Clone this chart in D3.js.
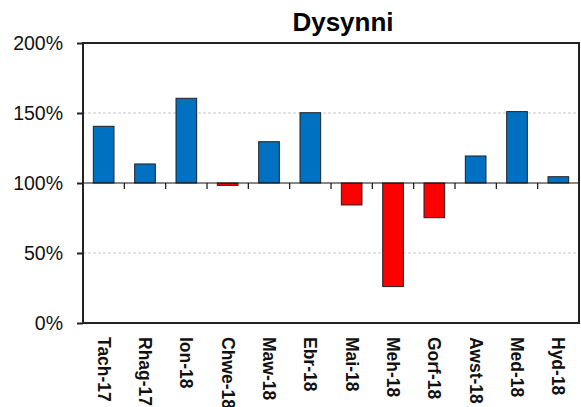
<!DOCTYPE html>
<html>
<head>
<meta charset="utf-8">
<script src="https://cdn.jsdelivr.net/npm/d3@7"></script>
<style>
  html, body { margin: 0; padding: 0; background: #fff; }
  svg { display: block; }
</style>
</head>
<body>
<script>
const title = "Dysynni";
const categories = ["Tach-17","Rhag-17","Ion-18","Chwe-18","Maw-18","Ebr-18","Mai-18","Meh-18","Gorf-18","Awst-18","Med-18","Hyd-18"];
const values = [140.5, 113.6, 160.5, 98.3, 129.5, 150.2, 84.3, 26, 75.2, 119.3, 151, 104.5];
const yTicks = [0, 50, 100, 150, 200];
const baseline = 100;

const W = 581, H = 407;
const m = {left: 83, right: 2, top: 43, bottom: 84};

const svg = d3.select("body").append("svg").attr("width", W).attr("height", H);

const x = d3.scaleBand().domain(categories).range([m.left, W - m.right]).paddingInner(0.5).paddingOuter(0.25);
const y = d3.scaleLinear().domain([0, 200]).range([H - m.bottom, m.top]);

// gridlines
svg.append("g").selectAll("line").data([50, 150]).join("line")
  .attr("x1", m.left).attr("x2", W - m.right)
  .attr("y1", d => y(d)).attr("y2", d => y(d))
  .attr("stroke", "#c8c8c8").attr("stroke-width", 1).attr("stroke-dasharray", "3,2");

// bars
svg.append("g").selectAll("rect").data(categories).join("rect")
  .attr("x", (d) => x(d))
  .attr("width", x.bandwidth())
  .attr("y", (d, i) => y(Math.max(values[i], baseline)))
  .attr("height", (d, i) => Math.abs(y(values[i]) - y(baseline)))
  .attr("fill", (d, i) => values[i] >= baseline ? "#0070c0" : "#ff0000")
  .attr("stroke", "#222").attr("stroke-width", 1);

// baseline axis at 100%
const step = x.step();
const xAxis = d3.axisBottom(x).tickSize(5).tickFormat("");
const gx = svg.append("g").attr("transform", `translate(0,${y(baseline)})`).call(xAxis);
gx.select(".domain").remove();
gx.selectAll(".tick").remove();
svg.append("line").attr("x1", m.left).attr("x2", W - m.right)
  .attr("y1", y(baseline)).attr("y2", y(baseline))
  .attr("stroke", "#111").attr("stroke-width", 1.2);
// tick marks between categories
svg.append("g").selectAll("line").data(categories.slice(1)).join("line")
  .attr("x1", d => x(d) - step * 0.25).attr("x2", d => x(d) - step * 0.25)
  .attr("y1", y(baseline)).attr("y2", y(baseline) + 6)
  .attr("stroke", "#111").attr("stroke-width", 1.2);

// frame
svg.append("rect").attr("x", m.left).attr("y", m.top)
  .attr("width", W - m.right - m.left).attr("height", y(0) - m.top)
  .attr("fill", "none").attr("stroke", "#222").attr("stroke-width", 2);

// y axis
const yAxis = d3.axisLeft(y).tickValues(yTicks).tickSize(6).tickPadding(14).tickFormat(d => d + "%");
const gy = svg.append("g").attr("transform", `translate(${m.left},0)`).call(yAxis);
gy.select(".domain").remove();
gy.selectAll(".tick line").attr("stroke", "#222").attr("stroke-width", 2);
gy.selectAll(".tick text").attr("font-family", "Liberation Sans, Arial, sans-serif")
  .attr("font-size", 19.5).attr("fill", "#111");

// x labels
svg.append("g").selectAll("text").data(categories).join("text")
  .attr("transform", d => `translate(${x(d) + x.bandwidth() / 2},337) rotate(90)`)
  .attr("text-anchor", "start").attr("dominant-baseline", "central")
  .attr("font-family", "Liberation Sans, Arial, sans-serif")
  .attr("font-weight", "bold").attr("font-size", 17.5).attr("fill", "#111")
  .text(d => d);

// title
svg.append("text").attr("x", 343).attr("y", 31).attr("text-anchor", "middle")
  .attr("font-family", "Liberation Sans, Arial, sans-serif")
  .attr("font-weight", "bold").attr("font-size", 26).attr("fill", "#000")
  .text(title);
</script>
</body>
</html>
